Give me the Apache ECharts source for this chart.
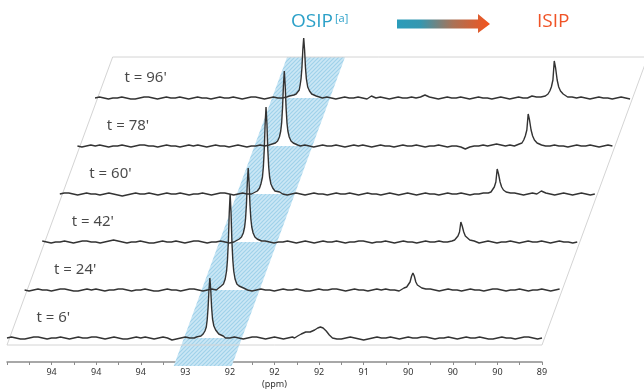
<!DOCTYPE html>
<html lang="en">
<head>
    <meta charset="UTF-8">
    <title>OSIP to ISIP stacked spectra</title>
    <script src="https://cdn.jsdelivr.net/npm/echarts@6.0.0/dist/echarts.min.js"></script>
    <style>
        body, html {
            margin: 0;
            padding: 0;
            background-color: #fff;
        }
        #main {
            width: 644px;
            height: 390px;
        }
    </style>
</head>
<body>
    <div id="main"></div>
    <script>
        // tick labels of the ppm axis, one per axis step (step 0 unlabeled)
        const tickLabels = ['', '94', '94', '94', '93', '92', '92', '92', '91', '90', '90', '90', '89'];
        const timeLabels = ["t = 6'", "t = 24'", "t = 42'", "t = 60'", "t = 78'", "t = 96'"];

        // baseline noise of every spectrum, sampled every 0.1 axis step (0 .. 12)
        const noiseStep = 0.1;
        const noise6 = [
            0, 1, 0, -1, -1, 0, 1, 1, 0, -1,
            0, 0, 1, 0, -1, 0, 1, 0, 0, 1,
            1, 0, -1, 0, 1, 0, -1, -1, 0, 1,
            0, 1, 0, -1, 0, 1, 0, -2, -1, 0,
            1, 0, 0, 1, 0, 0, 1, 2, 1, 0,
            0, 1, 0, -1, 0, 1, 1, 0, -1, 0,
            1, 0, -1, 0, 1, 0, 0, -1, 0, 1,
            0, 0, 1, 0, -1, -1, 0, 1, 0, -1,
            -2, -1, 0, 1, 0, 0, 1, 0, -1, 0,
            1, 0, 0, 1, 1, 0, -1, 0, 0, 1,
            0, -1, 0, 1, 0, 0, 1, 0, -1, -1,
            0, 1, 0, 0, -1, 0, 1, 1, 0, -1,
            0
        ];
        const noise24 = [
            0, -1, 0, 1, 0, 0, -1, 0, 1, 1,
            0, -1, -1, 0, 1, 0, 1, 0, -1, 0,
            0, 1, 1, 0, -1, 0, 0, 1, 0, -1,
            -1, 0, 1, 0, 0, -1, 0, 1, 1, 0,
            -1, 0, 1, 0, 0, 1, 2, 1, 1, 0,
            0, -1, 0, 1, 0, 0, -1, 0, 1, 0,
            0, 1, 0, -1, -1, 0, 1, 0, 0, 1,
            1, 0, -1, 0, 1, 0, 0, -1, 0, 1,
            0, 1, 0, 0, -1, 0, 1, 1, 0, 0,
            0, 1, 0, -1, 0, 1, 0, 0, -1, 0,
            1, 0, 0, -1, 0, 1, 1, 0, -1, 0,
            0, 1, 0, -1, 0, 0, 1, 0, -1, 0,
            1
        ];
        const noise42 = [
            1, 0, -1, 0, 0, 1, 0, -1, 0, 1,
            1, 0, 0, -1, 0, 1, 2, 1, 0, -1,
            0, 0, 1, 0, -1, -1, 0, 1, 0, 0,
            1, 0, -1, 0, 1, 1, 0, -1, 0, 0,
            1, 0, -1, 0, 1, 1, 2, 1, 0, 0,
            1, 0, -1, 0, 0, 1, 0, -1, 0, 1,
            0, -1, 0, 1, 0, 0, 1, 0, -1, 0,
            0, 1, 1, 0, -1, 0, 0, 1, 0, -1,
            0, 1, 0, 0, -1, 0, 1, 0, 0, 1,
            0, -1, 0, 1, 0, 0, 1, 0, -1, 0,
            1, 0, -1, 0, 0, 1, 0, -1, 0, 1,
            0, 0, 1, 0, -1, 0, 1, 0, 0, -1,
            0
        ];
        const noise60 = [
            0, 1, 1, 0, -1, 0, 1, 0, 0, -1,
            0, 1, 0, -1, -2, -1, 0, 1, 0, 0,
            1, 0, -1, 0, 1, 0, 0, 1, 0, -1,
            0, 0, 1, 0, -1, 0, 1, 1, 0, -1,
            0, 1, 0, 0, 1, 1, 2, 2, 1, 0,
            0, -1, 0, 1, 0, -1, 0, 1, 0, 0,
            -1, 0, 1, 0, 0, 1, 0, -1, 0, 1,
            0, 0, -1, 0, 1, 0, -1, 0, 1, 0,
            -1, 0, 1, 0, 0, -1, 0, 1, 0, 0,
            1, 0, -1, 0, 0, 1, 0, 1, 2, 1,
            0, 0, 1, 0, -1, 0, 1, 0, 3, 1,
            0, -1, 0, 1, 0, -1, 0, 1, 0, -1,
            0
        ];
        const noise78 = [
            0, -1, 0, 1, 0, 1, 0, -1, 0, 0,
            1, 0, -1, 0, 1, 1, 0, 0, -1, 0,
            1, 0, 0, -1, 0, 1, 0, 1, 0, -1,
            0, 1, 0, 0, -1, 0, 1, 0, -1, 0,
            0, 1, 0, 1, 1, 2, 2, 1, 1, 0,
            0, 1, 0, -1, 0, 1, 0, 0, 1, 0,
            -1, 0, 1, 0, 1, 0, -1, 0, 1, 0,
            0, -1, 0, 1, 0, 0, 1, 0, -1, 0,
            0, 1, 0, -1, 0, 0, -1, -3, -1, 0,
            0, 1, 0, 1, 2, 1, 0, 1, 0, 1,
            1, 0, 1, 0, -1, 0, 0, 1, 0, 0,
            -1, 0, 1, 0, 0, 1, 0, -1, 0, 1,
            0
        ];
        const noise96 = [
            0, 1, 0, -1, 0, 0, 1, 0, -1, -1,
            0, 1, 1, 0, -1, 0, 1, 0, 0, 1,
            0, -1, 0, 1, 0, 0, -1, 0, 1, 0,
            0, 1, 0, -1, 0, 1, 1, 0, -1, 0,
            1, 0, 0, 1, 2, 2, 3, 2, 1, 1,
            1, 0, 1, 0, -1, 0, 1, 0, 0, 1,
            0, -1, 2, 0, 1, 0, -1, 0, 1, 0,
            0, 1, 0, 1, 3, 1, 0, -1, 0, 1,
            0, 0, 1, 0, -1, 0, 1, 0, 0, -1,
            0, 1, 0, -1, 0, 1, 0, 0, 2, 1,
            1, 1, 2, 3, 5, 3, 2, 1, 0, 1,
            0, -1, 0, 1, 0, 0, -1, 0, 1, 0,
            -1
        ];

        // peaks [axis step, intensity]: OSIP line near 4.6, ISIP line moving right
        const peaks6 = [
            [[4.25, 1], [4.35, 2], [4.40, 4], [4.44, 7], [4.47, 11], [4.49, 18], [4.51, 30], [4.53, 48], [4.55, 60], [4.57, 48], [4.59, 30], [4.61, 19], [4.64, 12], [4.68, 8], [4.75, 4], [4.85, 2]],
            [[6.45, 0], [6.52, 2], [6.6, 4], [6.7, 6], [6.8, 6], [6.9, 8], [6.97, 10], [7.03, 11], [7.09, 10], [7.16, 7], [7.23, 3], [7.3, 0]]
        ];
        const peaks24 = [
            [[4.31, 2], [4.41, 4], [4.46, 6], [4.50, 11], [4.53, 19], [4.55, 30], [4.57, 48], [4.59, 77], [4.61, 96], [4.63, 77], [4.65, 48], [4.67, 30], [4.69, 19], [4.72, 11], [4.76, 6], [4.81, 4], [4.91, 2]],
            [[8.41, 0], [8.51, 2], [8.57, 3], [8.61, 5], [8.645, 8], [8.68, 14], [8.71, 17], [8.74, 14], [8.775, 8], [8.81, 5], [8.85, 3], [8.91, 2], [9.0, 1]]
        ];
        const peaks42 = [
            [[4.32, 1], [4.42, 3], [4.47, 5], [4.51, 9], [4.54, 15], [4.56, 23], [4.58, 37], [4.60, 59], [4.62, 74], [4.64, 59], [4.66, 37], [4.68, 23], [4.70, 15], [4.73, 9], [4.77, 5], [4.82, 3], [4.92, 1]],
            [[9.09, 0], [9.19, 1], [9.25, 2], [9.29, 4], [9.325, 6], [9.36, 10], [9.39, 20], [9.42, 16], [9.455, 10], [9.49, 6], [9.53, 4], [9.59, 2], [9.69, 1]]
        ];
        const peaks60 = [
            [[4.33, 2], [4.43, 3], [4.48, 6], [4.51, 10], [4.545, 17], [4.565, 27], [4.585, 44], [4.605, 70], [4.625, 87], [4.645, 70], [4.665, 44], [4.685, 27], [4.705, 17], [4.735, 10], [4.775, 6], [4.825, 3], [4.93, 2]],
            [[9.51, 0], [9.61, 1], [9.67, 2], [9.71, 4], [9.745, 7], [9.78, 12], [9.81, 25], [9.84, 20], [9.875, 12], [9.91, 7], [9.95, 4], [10.01, 2], [10.11, 1]]
        ];
        const peaks78 = [
            [[4.34, 1], [4.44, 3], [4.49, 5], [4.53, 9], [4.56, 15], [4.58, 23], [4.60, 38], [4.62, 60], [4.64, 75], [4.66, 60], [4.68, 38], [4.70, 23], [4.72, 15], [4.75, 9], [4.79, 5], [4.84, 3], [4.94, 1]],
            [[9.81, 1], [9.91, 2], [9.97, 3], [10.01, 6], [10.045, 10], [10.08, 16], [10.11, 32], [10.14, 26], [10.175, 16], [10.21, 10], [10.25, 6], [10.31, 3], [10.41, 1]]
        ];
        const peaks96 = [
            [[4.36, 2], [4.46, 3], [4.51, 4], [4.55, 5], [4.58, 8], [4.60, 13], [4.62, 19], [4.64, 30], [4.66, 48], [4.68, 60], [4.70, 48], [4.72, 30], [4.74, 19], [4.77, 11], [4.81, 7], [4.86, 4], [4.96, 2]],
            [[10.00, 1], [10.10, 2], [10.16, 4], [10.20, 7], [10.235, 11], [10.27, 18], [10.30, 37], [10.33, 30], [10.365, 18], [10.40, 11], [10.44, 7], [10.50, 4], [10.60, 1]]
        ];

        // OSIP band: left / right edge (axis steps) at the front baseline
        const osipBand = [3.97, 5.27];

        const noises = [noise6, noise24, noise42, noise60, noise78, noise96];
        const peaks = [peaks6, peaks24, peaks42, peaks60, peaks78, peaks96];

        // layout of the slanted stack
        const UNIT_PX = 535 / 12;       // pixels per axis step
        const ROW_GAP = 48;             // vertical distance between spectra
        const ROW_SHIFT = 0.395;        // sideways shift per spectrum, axis steps
        const SKEW = ROW_SHIFT / ROW_GAP;
        const PLANE_BOTTOM = -7, PLANE_TOP = 281, AXIS_Y = -28;

        function buildSpectrum(noise, peakList) {
            const pts = [];
            noise.forEach((v, i) => {
                const x = +(i * noiseStep).toFixed(2);
                const covered = peakList.some(p => x >= p[0][0] && x <= p[p.length - 1][0]);
                if (!covered) pts.push([x, v]);
            });
            peakList.forEach(p => p.forEach(q => pts.push(q)));
            pts.sort((a, b) => a[0] - b[0]);
            return pts;
        }

        // hatch pattern for the OSIP band
        const hatch = document.createElement('canvas');
        hatch.width = hatch.height = 4;
        const hctx = hatch.getContext('2d');
        hctx.fillStyle = '#cbe7f5';
        hctx.fillRect(0, 0, 4, 4);
        hctx.strokeStyle = '#a0d1ea';
        hctx.lineWidth = 1.2;
        hctx.beginPath();
        hctx.moveTo(0, 4); hctx.lineTo(4, 0);
        hctx.moveTo(-1, 1); hctx.lineTo(1, -1);
        hctx.moveTo(3, 5); hctx.lineTo(5, 3);
        hctx.stroke();

        const chart = echarts.init(document.getElementById('main'), null, { renderer: 'canvas' });

        const series = [];

        series.push({
            type: 'custom',
            xAxisIndex: 0,
            yAxisIndex: 0,
            silent: true,
            data: [osipBand],
            renderItem: function (params, api) {
                const x0 = api.value(0), x1 = api.value(1);
                const pts = [
                    [x0 + AXIS_Y * SKEW, AXIS_Y],
                    [x1 + AXIS_Y * SKEW, AXIS_Y],
                    [x1 + PLANE_TOP * SKEW, PLANE_TOP],
                    [x0 + PLANE_TOP * SKEW, PLANE_TOP]
                ].map(p => api.coord(p));
                return {
                    type: 'polygon',
                    shape: { points: pts },
                    style: { fill: { image: hatch, repeat: 'repeat' } }
                };
            }
        });

        // outline of the slanted plane
        const topShift = (PLANE_TOP - PLANE_BOTTOM) * SKEW;
        series.push({
            type: 'line',
            xAxisIndex: 0,
            yAxisIndex: 0,
            silent: true,
            symbol: 'none',
            lineStyle: { color: '#d4d4d4', width: 1 },
            data: [[0, PLANE_BOTTOM], [12, PLANE_BOTTOM], [12 + topShift, PLANE_TOP], [topShift, PLANE_TOP], [0, PLANE_BOTTOM]]
        });

        // spectra, back to front
        for (let r = noises.length - 1; r >= 0; r--) {
            const pts = buildSpectrum(noises[r], peaks[r]);
            series.push({
                type: 'line',
                xAxisIndex: 0,
                yAxisIndex: 0,
                silent: true,
                symbol: 'none',
                lineStyle: { color: '#333', width: 1.4 },
                areaStyle: { color: '#fff', opacity: 1, origin: r * ROW_GAP },
                data: pts.map(p => [p[0] + r * ROW_SHIFT, p[1] + r * ROW_GAP])
            });
        }

        // time labels
        series.push({
            type: 'scatter',
            xAxisIndex: 0,
            yAxisIndex: 0,
            silent: true,
            symbolSize: 0,
            data: timeLabels.map((t, r) => [0.66 + r * ROW_SHIFT, r * ROW_GAP + 20, t]),
            label: {
                show: true,
                position: 'right',
                distance: 0,
                formatter: p => p.data[2],
                color: '#1a1a1a',
                fontSize: 15,
                fontFamily: 'Noto Sans'
            }
        });

        const option = {
            animation: false,
            backgroundColor: '#fff',
            grid: [
                { left: 7, top: 0, width: 637, height: 390 },
                { left: 7, top: 330, width: 535, height: 36 }
            ],
            xAxis: [
                { gridIndex: 0, type: 'value', min: 0, max: 637 / UNIT_PX, show: false },
                {
                    gridIndex: 1,
                    type: 'value',
                    min: 0,
                    max: 12,
                    interval: 1,
                    name: '(ppm)',
                    nameLocation: 'middle',
                    nameGap: 18,
                    nameTextStyle: { color: '#333', fontSize: 9, fontFamily: 'Noto Sans' },
                    axisLine: { lineStyle: { color: '#8c8c8c', width: 1.5 } },
                    axisTick: { length: 3, lineStyle: { color: '#8c8c8c' } },
                    minorTick: { show: true, splitNumber: 2, length: 3, lineStyle: { color: '#8c8c8c' } },
                    splitLine: { show: false },
                    axisLabel: {
                        formatter: v => tickLabels[Math.round(v)],
                        color: '#333',
                        fontSize: 9,
                        fontFamily: 'Noto Sans',
                        margin: 6,
                        showMinLabel: true,
                        showMaxLabel: true
                    }
                }
            ],
            yAxis: [
                { gridIndex: 0, type: 'value', min: -52, max: 338, show: false },
                { gridIndex: 1, type: 'value', min: 0, max: 1, show: false }
            ],
            graphic: [
                {
                    type: 'text', left: 291, top: 12,
                    style: { text: 'OSIP', fill: '#2ba0c8', font: '19px "Open Sans"' }
                },
                {
                    type: 'text', left: 335, top: 13,
                    style: { text: '[a]', fill: '#2ba0c8', font: '11px "Open Sans"' }
                },
                {
                    type: 'polygon',
                    shape: { points: [[397, 19.5], [478, 19.5], [478, 14], [490, 24], [478, 33], [478, 28.5], [397, 28.5]] },
                    style: {
                        fill: {
                            type: 'linear', x: 0, y: 0, x2: 1, y2: 0,
                            colorStops: [
                                { offset: 0, color: '#2a9cba' },
                                { offset: 0.25, color: '#3597b0' },
                                { offset: 0.6, color: '#a97257' },
                                { offset: 1, color: '#f4531d' }
                            ]
                        }
                    }
                },
                {
                    type: 'text', left: 537, top: 12,
                    style: { text: 'ISIP', fill: '#f05326', font: '19px "Open Sans"' }
                }
            ],
            series: series
        };

        chart.setOption(option);
    </script>
</body>
</html>
